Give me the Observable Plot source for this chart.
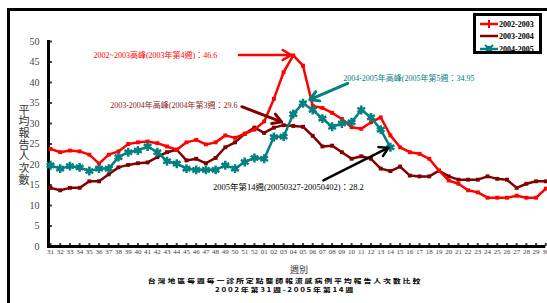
<!DOCTYPE html>
<html><head><meta charset="utf-8">
<script src="https://cdn.jsdelivr.net/npm/d3@7"></script>
<script src="https://cdn.jsdelivr.net/npm/@observablehq/plot@0.6"></script>
<style>
html,body{margin:0;padding:0;width:547px;height:303px;overflow:hidden;background:#fff;}
#wrap{position:relative;width:547px;height:303px;overflow:hidden;}
#border{position:absolute;left:7px;top:8px;width:620px;height:420px;border:3px solid #000;}
#chart{position:absolute;left:0;top:0;}
#ylabel{position:absolute;left:16px;top:104px;writing-mode:vertical-rl;text-orientation:upright;font:11px "Noto Sans CJK TC",sans-serif;color:#333;letter-spacing:0.7px;}
#xlabel{position:absolute;left:290px;top:265px;font:9px/10px "Noto Sans CJK TC",sans-serif;color:#333;}
.title{position:absolute;left:0;width:570px;text-align:center;font:bold 8px/8px "Noto Sans CJK TC",sans-serif;color:#000;height:8px;transform:scaleY(0.78);transform-origin:50% 50%;}
#legend{position:absolute;left:473px;top:13px;width:63px;height:35px;border:3px solid #000;background:#fff;overflow:hidden;}
.it{position:absolute;left:4px;height:10px;display:flex;align-items:center;font:bold 8px "Liberation Serif",serif;color:#000;}
.it svg{margin-right:1px;}
</style></head><body>
<div id="wrap">
<div id="border"></div>
<div id="chart"></div>
<div id="ylabel">平均報告人次數</div>
<div id="xlabel">週別</div>
<div class="title" style="top:276.5px;letter-spacing:1.8px">台灣地區每週每一診所定點醫師報流感病例平均報告人次數比較</div>
<div class="title" style="top:286px;letter-spacing:1.7px">2002年第31週-2005年第14週</div>
<div id="legend"></div>
</div>
<script>
const weeks = ["31","32","33","34","35","36","37","38","39","40","41","42","43","44","45","46","47","48","49","50","51","52",
"01","02","03","04","05","06","07","08","09","10","11","12","13","14","15","16","17","18","19","20","21","22","23","24","25","26","27","28","29","30"];
const seriesNames = ["2002-2003","2003-2004","2004-2005"];
const v0203 = [23.8,23.0,23.4,23.2,22.4,20.2,22.4,23.2,25.0,25.4,25.6,25.2,24.4,23.6,25.4,26.0,24.9,25.4,27.1,26.5,27.5,28.5,
30.5,36.0,42.5,46.6,44.1,34.3,33.8,32.6,31.1,29.1,28.7,30.3,31.5,27.1,24.2,23.0,22.6,21.4,18.5,16.1,15.3,13.7,13.2,11.9,11.9,11.9,12.4,11.9,11.9,14.1];
const v0304 = [14.3,13.7,14.3,14.3,15.9,15.9,17.6,19.3,19.9,20.3,20.5,21.8,23.0,23.6,21.0,21.4,20.3,21.6,24.2,25.4,27.5,29.0,
27.7,29.0,29.6,29.4,29.2,27.0,24.4,24.6,23.0,21.4,22.0,21.4,19.0,18.4,19.5,17.3,17.1,17.1,18.5,17.1,16.3,16.3,16.3,17.1,16.5,16.3,14.3,15.3,15.9,15.9];
const v0405 = [19.8,19.0,19.6,19.3,18.4,19.0,19.0,21.8,23.0,23.4,24.4,23.0,20.8,20.2,19.0,18.7,18.7,18.7,19.8,19.0,20.6,21.6,
21.4,26.7,26.8,32.3,34.95,33.3,31.2,29.2,30.0,30.3,33.3,31.5,28.5,24.2];
const yTicks = [0,5,10,15,20,25,30,35,40,45,50];

const colors = {"2002-2003":"#ff0000","2003-2004":"#800000","2004-2005":"#008080"};
const toRows = (vals, name) => vals.map((v,i)=>({i, v, s:name}));
const r1 = toRows(v0203, seriesNames[0]);
const r2 = toRows(v0304, seriesNames[1]);
const r3 = toRows(v0405, seriesNames[2]);

const serif = "'Liberation Serif', 'Noto Sans CJK TC', serif";
const cjk = "'Liberation Serif','Noto Sans CJK TC', sans-serif";

const chart = Plot.plot({
  width: 547, height: 262,
  marginLeft: 48, marginRight: 1.7, marginTop: 41, marginBottom: 16,
  style: {background: "transparent", overflow: "visible"},
  x: {domain: [0, 51], range: [50, 545.3]},
  y: {domain: [0, 50]},
  marks: [
    Plot.axisY({ticks: yTicks, tickSize: -4, tickPadding: 13, strokeWidth: 2, fontSize: 10, fontFamily: serif, color: "#444", label: null}),
    Plot.axisX({ticks: d3.range(52), tickFormat: i => weeks[i], tickSize: -3, tickPadding: 6, strokeWidth: 2, fontSize: 7, fontFamily: serif, color: "#444", label: null}),
    Plot.frame({anchor: "left", strokeWidth: 3, stroke: "#000"}),
    Plot.ruleY([0], {strokeWidth: 3, stroke: "#000"}),
    Plot.line(r2, {x: "i", y: "v", stroke: colors["2003-2004"], strokeWidth: 2.5}),
    Plot.dot(r2, {x: "i", y: "v", symbol: "square", r: 2.2, fill: colors["2003-2004"]}),
    Plot.line(r1, {x: "i", y: "v", stroke: colors["2002-2003"], strokeWidth: 2.5}),
    Plot.dot(r1, {x: "i", y: "v", symbol: "square", r: 2.2, fill: colors["2002-2003"]}),
    Plot.line(r3, {x: "i", y: "v", stroke: colors["2004-2005"], strokeWidth: 2.5}),
    Plot.dot(r3, {x: "i", y: "v", symbol: "asterisk", r: 4.2, stroke: colors["2004-2005"], strokeWidth: 2.5}),
    Plot.dot(r3, {x: "i", y: "v", symbol: "square", r: 2, fill: colors["2004-2005"]}),
    // annotations
    Plot.arrow([0], {x1: 19.4, y1: 46.7, x2: 24.8, y2: 46.7, stroke: "#ff0000", strokeWidth: 2.5, headLength: 6, bend: 0}),
    Plot.text(["2002~2003高峰(2003年第4週)：46.6"], {x: 10.8, y: 46.6, text: d => d, fill: "#ff0000", fontSize: 8, fontFamily: cjk}),
    Plot.arrow([0], {x1: 19.7, y1: 34.1, x2: 23.8, y2: 30.4, stroke: "#800000", strokeWidth: 3, headLength: 5}),
    Plot.text(["2003-2004年高峰(2004年第3週：29.6"], {x: 12.7, y: 34.4, text: d => d, fill: "#8b1a1a", fontSize: 8, fontFamily: cjk}),
    Plot.arrow([0], {x1: 30.6, y1: 39.8, x2: 26.7, y2: 35.8, stroke: "#008080", strokeWidth: 3, headLength: 5}),
    Plot.text(["2004-2005年高峰(2005年第5週：34.95"], {x: 36.9, y: 41.0, text: d => d, fill: "#008080", fontSize: 8, fontFamily: cjk}),
    Plot.arrow([0], {x1: 28.1, y1: 16.1, x2: 34.8, y2: 24.1, stroke: "#000", strokeWidth: 2.5, headLength: 6}),
    Plot.text(["2005年第14週(20050327-20050402)：28.2"], {x: 24.5, y: 14.4, text: d => d, fill: "#000", fontSize: 8.5, fontFamily: cjk})
  ]
});
document.getElementById("chart").appendChild(chart);

// legend
const leg = document.getElementById("legend");
const tops = [3, 15, 28];
seriesNames.forEach((n, k) => {
  const c = colors[n];
  let mk = "";
  if (k === 0) mk = `<line x1="9" y1="1" x2="9" y2="9" stroke="${c}" stroke-width="2"/>`;
  if (k === 2) mk = `<rect x="6" y="2" width="6" height="6" fill="${c}"/><path d="M5,1L13,9M13,1L5,9M4,5L14,5" stroke="${c}" stroke-width="2"/>`;
  const d = document.createElement("div");
  d.className = "it";
  d.style.top = tops[k] + "px";
  d.innerHTML = `<svg width="18" height="10"><line x1="0" y1="5" x2="18" y2="5" stroke="${c}" stroke-width="2.5"/>${mk}</svg><span>${n}</span>`;
  leg.appendChild(d);
});
</script>
</body></html>
